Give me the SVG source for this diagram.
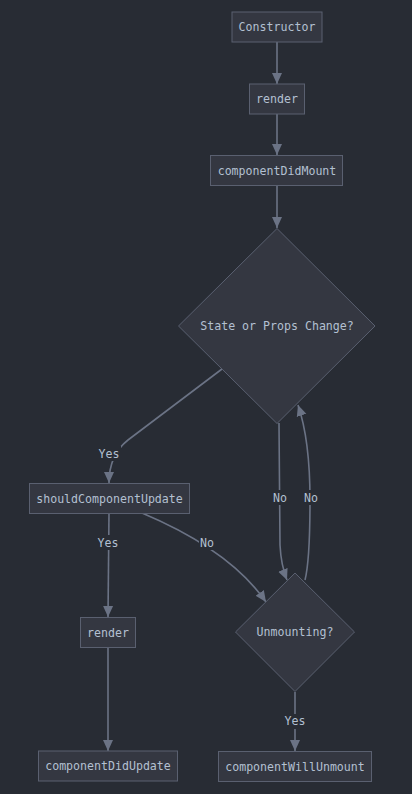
<svg xmlns="http://www.w3.org/2000/svg" width="412" height="794" viewBox="0 0 412 794">
<style>
.bg{fill:#282c34}
.node{fill:#343741;stroke:#5a6070;stroke-width:1}
.t{font-family:"DejaVu Sans Mono","Liberation Mono",monospace;font-size:11.6px;fill:#b3c0d1;text-anchor:middle;dominant-baseline:central}
.e{fill:none;stroke:#6b7385;stroke-width:1.6}
.lb{fill:#282c34}
</style>
<defs>
<marker id="ah" markerUnits="userSpaceOnUse" markerWidth="12" markerHeight="12" viewBox="0 0 12 12" refX="11" refY="6" orient="auto">
<path d="M0,1 L11,6 L0,11 Z" fill="#6b7385"/>
</marker>
</defs>
<rect class="bg" x="0" y="0" width="412" height="794"/>
<g id="edges">
<path class="e" d="M277,42 L277,84" marker-end="url(#ah)"/>
<path class="e" d="M277,114 L277,155" marker-end="url(#ah)"/>
<path class="e" d="M277,186 L277,228" marker-end="url(#ah)"/>
<path class="e" d="M222,369 L128,440 Q109,455 109,483" marker-end="url(#ah)"/>
<path class="e" d="M109,513 L108,617" marker-end="url(#ah)"/>
<path class="e" d="M108,647 L108,751" marker-end="url(#ah)"/>
<path class="e" d="M142,513 Q230,550 266,602" marker-end="url(#ah)"/>
<path class="e" d="M279,423 L280,545 Q281,565 287,580" marker-end="url(#ah)"/>
<path class="e" d="M305,580 Q310,560 310,500 Q310,440 298,405" marker-end="url(#ah)"/>
<path class="e" d="M295,692 L295,751" marker-end="url(#ah)"/>
<g id="edge-labels">
<rect class="lb" x="97" y="446" width="24" height="15"/><text class="t" x="109" y="453.5">Yes</text>
<rect class="lb" x="96" y="535" width="24" height="15"/><text class="t" x="108" y="542.5">Yes</text>
<rect class="lb" x="199" y="535" width="16" height="15"/><text class="t" x="207" y="543">No</text>
<rect class="lb" x="272" y="490" width="16" height="15"/><text class="t" x="280" y="498">No</text>
<rect class="lb" x="303" y="490" width="16" height="15"/><text class="t" x="311" y="498">No</text>
<rect class="lb" x="283" y="714" width="24" height="15"/><text class="t" x="295" y="721">Yes</text>
</g>
</g>
<g id="constructor"><rect class="node" x="232" y="12" width="90" height="30"/><text class="t" x="277" y="27">Constructor</text></g>
<g id="render1"><rect class="node" x="249.5" y="84" width="55" height="30"/><text class="t" x="277" y="99">render</text></g>
<g id="componentDidMount"><rect class="node" x="210.5" y="155.5" width="132" height="30"/><text class="t" x="277" y="170.5">componentDidMount</text></g>
<g id="stateOrProps"><polygon class="node" points="277,228.5 375,326 277,423.5 178.5,326"/><text class="t" x="277" y="326">State or Props Change?</text></g>
<g id="shouldComponentUpdate"><rect class="node" x="29.5" y="483.5" width="160" height="30"/><text class="t" x="109.5" y="498.5">shouldComponentUpdate</text></g>
<g id="render2"><rect class="node" x="80.5" y="617.5" width="55" height="30"/><text class="t" x="108" y="632.5">render</text></g>
<g id="componentDidUpdate"><rect class="node" x="38.5" y="751" width="139" height="30"/><text class="t" x="108" y="766">componentDidUpdate</text></g>
<g id="unmounting"><polygon class="node" points="295,573 354.5,632 295,691.5 235.5,632"/><text class="t" x="295" y="632">Unmounting?</text></g>
<g id="componentWillUnmount"><rect class="node" x="218.5" y="751.5" width="153" height="30"/><text class="t" x="295" y="766.5">componentWillUnmount</text></g>
</svg>
